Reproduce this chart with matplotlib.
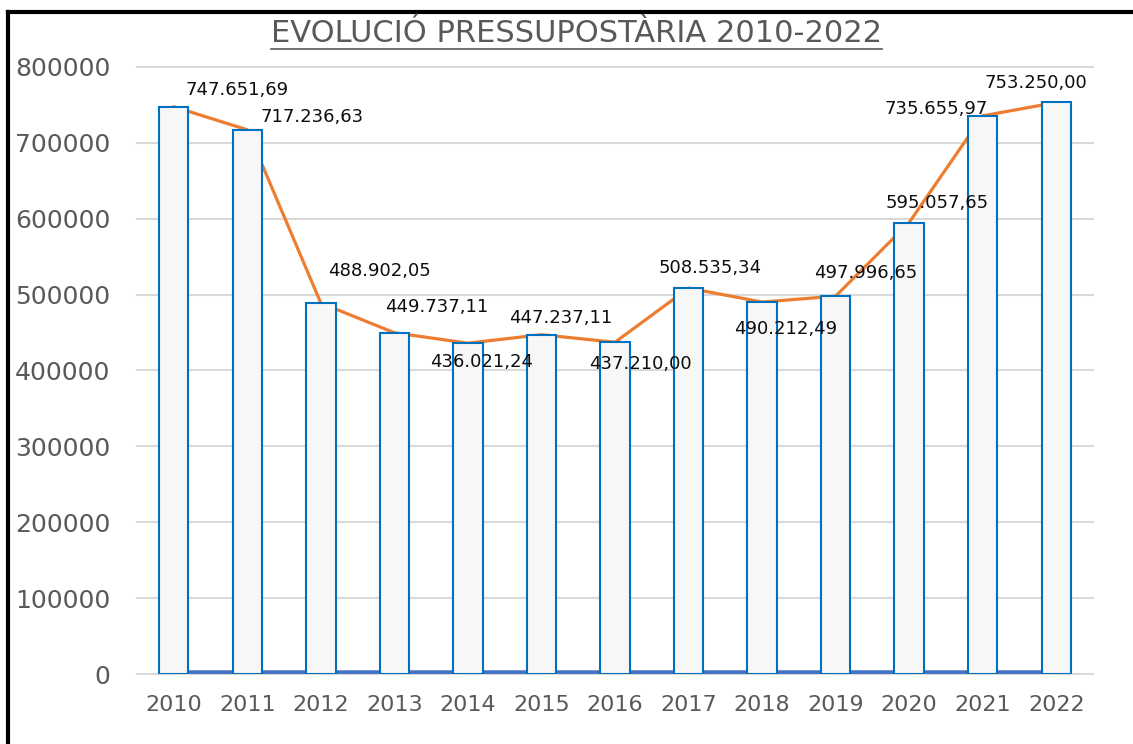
import matplotlib
matplotlib.use("Agg")
import matplotlib.pyplot as plt
from matplotlib.lines import Line2D

plt.rcParams['font.family'] = ['DejaVu Sans']

years = ['2010', '2011', '2012', '2013', '2014', '2015', '2016', '2017', '2018', '2019', '2020', '2021', '2022']
budget = [747651.69, 717236.63, 488902.05, 449737.11, 436021.24, 447237.11, 437210.00,
          508535.34, 490212.49, 497996.65, 595057.65, 735655.97, 753250.00]
year_values = [2010, 2011, 2012, 2013, 2014, 2015, 2016, 2017, 2018, 2019, 2020, 2021, 2022]
labels = ['747.651,69', '717.236,63', '488.902,05', '449.737,11', '436.021,24', '447.237,11',
          '437.210,00', '508.535,34', '490.212,49', '497.996,65', '595.057,65', '735.655,97',
          '753.250,00']
yticks = [0, 100000, 200000, 300000, 400000, 500000, 600000, 700000, 800000]

# label offsets in pixels (styling)
label_offsets = [(63, 17), (65, 13), (59, 32), (42, 26), (14, -19), (19, 17), (25, -22),
                 (22, 20), (24, -27), (30, 23), (28, 20), (-47, 7), (-20, 19)]

W, H = 1133, 744
fig = plt.figure(figsize=(W / 100, H / 100), dpi=100)
ax = fig.add_axes([137 / W, 1 - 674 / H, (1093 - 137) / W, (674 - 67) / H])

x = list(range(len(years)))
ax.plot(x, budget, color='#ed7d31', lw=2.3, zorder=2, solid_capstyle='round')
ax.bar(x, budget, width=0.4, facecolor='#f7f7f7', edgecolor='#0070c0', linewidth=1.5, zorder=3)
ax.plot(x, year_values, color='#4472c4', lw=3.2, zorder=2.5)

for xi, v, lab, (dx, dy) in zip(x, budget, labels, label_offsets):
    ax.annotate(lab, (xi, v), xytext=(dx, dy), textcoords='offset pixels',
                ha='center', va='center', fontsize=13, color='#0d0d0d', zorder=5)

ax.set_xlim(-0.5, len(years) - 0.5)
ax.set_ylim(0, 800000)
ax.set_yticks(yticks)
ax.set_yticklabels([str(t) for t in yticks])
ax.set_xticks(x)
ax.set_xticklabels(years)
ax.tick_params(axis='y', length=0, pad=19, labelsize=18, labelcolor='#595959')
ax.tick_params(axis='x', length=0, pad=15, labelsize=16, labelcolor='#595959')
ax.grid(axis='y', color='#d9d9d9', lw=1.5, zorder=0)
ax.set_axisbelow(True)
for gl in ax.get_ygridlines():
    gl.set_clip_on(False)
for s in ax.spines.values():
    s.set_visible(False)

title = fig.text(577 / W, 1 - 34 / H, 'EVOLUCIÓ PRESSUPOSTÀRIA 2010-2022', ha='center', va='center',
                 fontsize=22, color='#595959')
fig.canvas.draw()
bb = title.get_window_extent(renderer=fig.canvas.get_renderer())
uy = 1 - 49 / H
fig.add_artist(Line2D([bb.x0 / W, bb.x1 / W], [uy, uy], color='#595959', lw=1.2,
                      transform=fig.transFigure))

# chart frame (left and top edges visible)
fig.add_artist(Line2D([8 / W, 8 / W], [0, 1 - 12 / H], color='black', lw=3, transform=fig.transFigure))
fig.add_artist(Line2D([8 / W, 1], [1 - 12 / H, 1 - 12 / H], color='black', lw=3, transform=fig.transFigure))

fig.savefig('out.png', dpi=100)
